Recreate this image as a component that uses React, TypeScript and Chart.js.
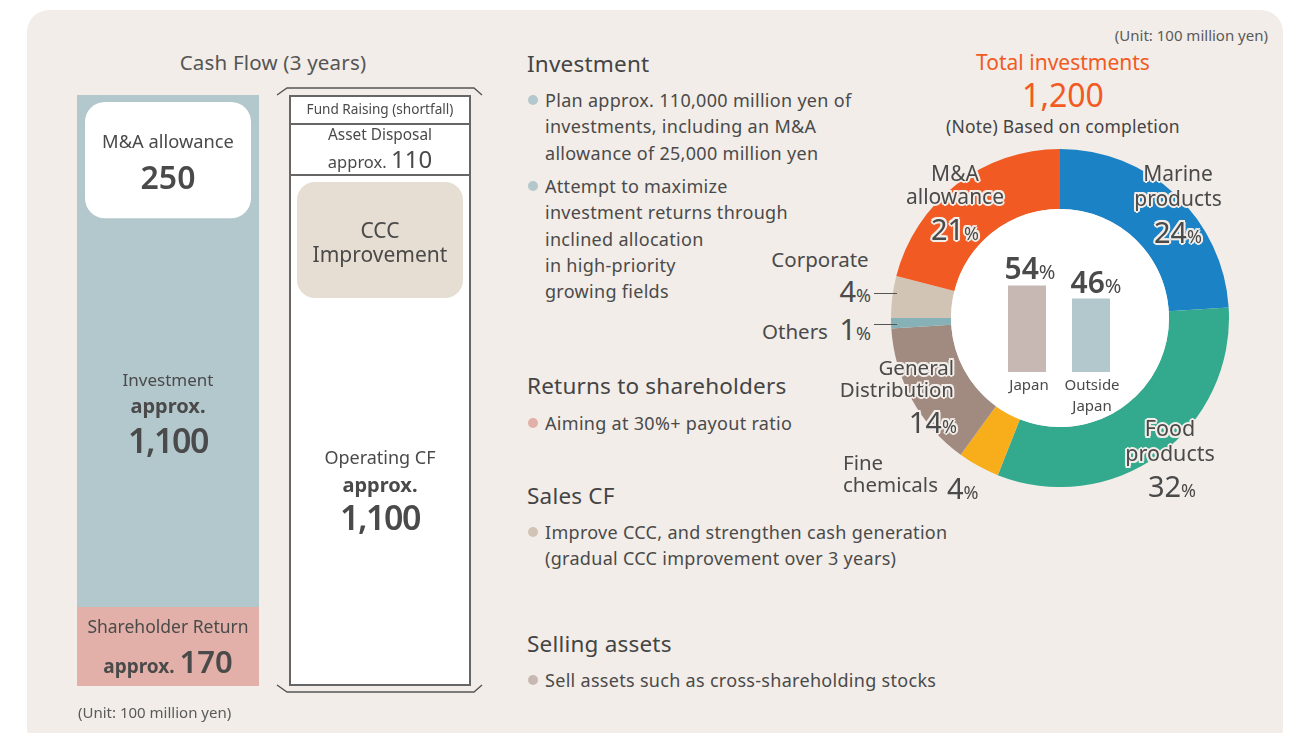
import React, { useEffect, useRef } from "react";
import { Chart, registerables } from "chart.js";

Chart.register(...registerables);

// ---------- DATA ----------
const cfCategories = ["Uses", "Sources"];
const shareholderReturn = [170, null];
const investment = [1100, null];
const operatingCF = [null, 1100];
const assetDisposal = [null, 110];
const fundRaising = [null, 60];
const maAllowance = 250;

const segLabels = [
  "Marine products",
  "Food products",
  "Fine chemicals",
  "General Distribution",
  "Others",
  "Corporate",
  "M&A allowance",
];
const segValues = [24, 32, 4, 14, 1, 4, 21];
const segColors = ["#1b82c5", "#33a98d", "#f8ae1b", "#a18a80", "#86b1b6", "#d1c4b5", "#f15a23"];

const regionLabels = ["Japan", "Outside Japan"];
const regionValues = [54, 46];
const regionColors = ["#c8b8b3", "#b3c8cd"];

// ---------- STYLE ----------
const FONT = "'Noto Sans', 'Open Sans', sans-serif";
const TXT = "#4a4a4a";
const PANEL = "#f2ede8";
const ORANGE = "#f15a23";
const halo = [
  `2px 0 0 ${PANEL}`,
  `-2px 0 0 ${PANEL}`,
  `0 2px 0 ${PANEL}`,
  `0 -2px 0 ${PANEL}`,
  `1.5px 1.5px 0 ${PANEL}`,
  `-1.5px 1.5px 0 ${PANEL}`,
  `1.5px -1.5px 0 ${PANEL}`,
  `-1.5px -1.5px 0 ${PANEL}`,
  `0 0 3px ${PANEL}`,
].join(", ");

function T({ x, y, a = "center", s = 16, w = 400, c = TXT, children, style = {} }: any) {
  const tx = a === "center" ? "-50%" : a === "right" ? "-100%" : "0";
  return (
    <div
      style={{
        position: "absolute",
        left: x,
        top: y,
        transform: `translate(${tx},-50%)`,
        fontSize: s,
        fontWeight: w,
        color: c,
        whiteSpace: "nowrap",
        lineHeight: 1,
        fontFamily: FONT,
        ...style,
      }}
    >
      {children}
    </div>
  );
}

function Dot({ x, y, c }: any) {
  return (
    <div
      style={{
        position: "absolute",
        left: x - 5,
        top: y - 5,
        width: 10,
        height: 10,
        borderRadius: 5,
        background: c,
      }}
    />
  );
}

function roundRect(ctx: CanvasRenderingContext2D, x: number, y: number, w: number, h: number, r: number) {
  ctx.beginPath();
  ctx.moveTo(x + r, y);
  ctx.lineTo(x + w - r, y);
  ctx.arcTo(x + w, y, x + w, y + r, r);
  ctx.lineTo(x + w, y + h - r);
  ctx.arcTo(x + w, y + h, x + w - r, y + h, r);
  ctx.lineTo(x + r, y + h);
  ctx.arcTo(x, y + h, x, y + h - r, r);
  ctx.lineTo(x, y + r);
  ctx.arcTo(x, y, x + r, y, r);
  ctx.closePath();
}

function CashFlowChart() {
  const ref = useRef<HTMLCanvasElement>(null);
  useEffect(() => {
    const total = (shareholderReturn[0] as number) + (investment[0] as number);
    const border = "#666666";
    const maPlugin = {
      id: "maBox",
      afterDatasetsDraw(chart: any) {
        const ctx = chart.ctx;
        const y = chart.scales.y;
        const inv = chart.getDatasetMeta(1).data[0];
        if (inv) {
          const left = inv.x - inv.width / 2 + 8;
          const w = inv.width - 16;
          const top = inv.y + 7;
          const h = y.getPixelForValue(0) - y.getPixelForValue(maAllowance);
          ctx.save();
          ctx.fillStyle = "#ffffff";
          roundRect(ctx, left, top, w, h, 20);
          ctx.fill();
          ctx.restore();
        }
        const fr = chart.getDatasetMeta(4).data[1];
        const op = chart.getDatasetMeta(2).data[1];
        if (fr && op) {
          const l = fr.x - fr.width / 2 - 12;
          const r = fr.x + fr.width / 2 + 11;
          const t = fr.y - 7;
          const b = op.base + 6;
          ctx.save();
          ctx.strokeStyle = "#555";
          ctx.lineWidth = 1.4;
          ctx.beginPath();
          ctx.moveTo(l, t + 7);
          ctx.lineTo(l + 10, t);
          ctx.lineTo(r - 8, t);
          ctx.lineTo(r, t + 7);
          ctx.stroke();
          ctx.beginPath();
          ctx.moveTo(l, b - 7);
          ctx.lineTo(l + 10, b);
          ctx.lineTo(r - 8, b);
          ctx.lineTo(r, b - 7);
          ctx.stroke();
          ctx.restore();
        }
      },
    };
    const chart = new Chart(ref.current as HTMLCanvasElement, {
      type: "bar",
      data: {
        labels: cfCategories,
        datasets: [
          { label: "Shareholder Return", data: shareholderReturn, backgroundColor: "#e2b0a8", borderWidth: 0 },
          { label: "Investment", data: investment, backgroundColor: "#b3c8cd", borderWidth: 0 },
          {
            label: "Operating CF",
            data: operatingCF,
            backgroundColor: "#ffffff",
            borderColor: border,
            borderWidth: { top: 2, left: 2, right: 2, bottom: 2 },
            borderSkipped: false,
          },
          {
            label: "Asset Disposal",
            data: assetDisposal,
            backgroundColor: "#ffffff",
            borderColor: border,
            borderWidth: { top: 2, left: 2, right: 2, bottom: 0 },
            borderSkipped: false,
          },
          {
            label: "Fund Raising (shortfall)",
            data: fundRaising,
            backgroundColor: "#ffffff",
            borderColor: border,
            borderWidth: { top: 2, left: 2, right: 2, bottom: 0 },
            borderSkipped: false,
          },
        ] as any,
      },
      options: {
        animation: false,
        responsive: false,
        layout: { padding: { top: 10, bottom: 10, left: 0, right: 0 } },
        datasets: { bar: { barPercentage: 182 / 212, categoryPercentage: 1 } } as any,
        scales: {
          x: { stacked: true, display: false },
          y: { stacked: true, display: false, min: 0, max: total },
        },
        plugins: { legend: { display: false }, tooltip: { enabled: false } },
      },
      plugins: [maPlugin],
    });
    return () => chart.destroy();
  }, []);
  return (
    <canvas
      ref={ref}
      width={424}
      height={611}
      style={{ position: "absolute", left: 62, top: 85, width: 424, height: 611 }}
    />
  );
}

function DoughnutChart() {
  const ref = useRef<HTMLCanvasElement>(null);
  useEffect(() => {
    const centerPlugin = {
      id: "whiteCenter",
      afterDatasetsDraw(chart: any) {
        const arc = chart.getDatasetMeta(0).data[0];
        if (!arc) return;
        const ctx = chart.ctx;
        ctx.save();
        ctx.fillStyle = "#ffffff";
        ctx.beginPath();
        ctx.arc(arc.x, arc.y, arc.innerRadius, 0, Math.PI * 2);
        ctx.fill();
        ctx.restore();
      },
    };
    const chart = new Chart(ref.current as HTMLCanvasElement, {
      type: "doughnut",
      data: {
        labels: segLabels,
        datasets: [{ data: segValues, backgroundColor: segColors, borderWidth: 0 }],
      },
      options: {
        animation: false,
        responsive: false,
        cutout: "64.5%",
        layout: { padding: 0 },
        plugins: { legend: { display: false }, tooltip: { enabled: false } },
      },
      plugins: [centerPlugin],
    });
    return () => chart.destroy();
  }, []);
  return (
    <canvas
      ref={ref}
      width={338}
      height={338}
      style={{ position: "absolute", left: 891, top: 149, width: 338, height: 338 }}
    />
  );
}

function RegionChart() {
  const ref = useRef<HTMLCanvasElement>(null);
  useEffect(() => {
    const chart = new Chart(ref.current as HTMLCanvasElement, {
      type: "bar",
      data: {
        labels: regionLabels,
        datasets: [{ data: regionValues, backgroundColor: regionColors, borderWidth: 0 }],
      },
      options: {
        animation: false,
        responsive: false,
        layout: { padding: 0 },
        datasets: { bar: { barPercentage: 38 / 64, categoryPercentage: 1 } } as any,
        scales: {
          x: { display: false },
          y: { display: false, min: 0, max: 70 },
        },
        plugins: { legend: { display: false }, tooltip: { enabled: false } },
      },
    });
    return () => chart.destroy();
  }, []);
  return (
    <canvas
      ref={ref}
      width={128}
      height={112}
      style={{ position: "absolute", left: 995, top: 260, width: 128, height: 112 }}
    />
  );
}

function Pct({ n, ns = 29, ps = 18, w = 400 }: any) {
  return (
    <span>
      <span style={{ fontSize: ns, fontWeight: w }}>{n}</span>
      <span style={{ fontSize: ps }}>%</span>
    </span>
  );
}

export default function App() {
  const lh = 26.3;
  const bs = 18; // body text size
  const bl = 0.3; // body letter spacing
  const body = { letterSpacing: bl };
  const head = { letterSpacing: 0.2 };
  return (
    <div
      style={{
        position: "absolute",
        left: 0,
        top: 0,
        width: 1290,
        height: 733,
        overflow: "hidden",
        background: "#ffffff",
        fontFamily: FONT,
      }}
    >
      <div
        style={{
          position: "absolute",
          left: 27,
          top: 10,
          width: 1256,
          height: 740,
          borderRadius: 22,
          background: PANEL,
        }}
      />

      {/* ---- Cash flow ---- */}
      <T x={273} y={62} s={20.5} c="#555" style={{ letterSpacing: 0.2 }}>Cash Flow (3 years)</T>
      <CashFlowChart />
      <div
        style={{
          position: "absolute",
          left: 297,
          top: 182,
          width: 166,
          height: 116,
          borderRadius: 18,
          background: "#e6ddd3",
        }}
      />
      <T x={168} y={141} s={18.3}>M&amp;A allowance</T>
      <T x={168} y={177} s={32} w={600}>250</T>
      <T x={168} y={379} s={17}>Investment</T>
      <T x={168} y={406} s={20} w={700}>approx.</T>
      <T x={168} y={440} s={34} w={600} style={{ letterSpacing: -1.5 }}>1,100</T>
      <T x={168} y={627} s={17.5}>Shareholder Return</T>
      <T x={168} y={661} s={19} w={700}>
        approx. <span style={{ fontSize: 31, fontWeight: 600 }}>170</span>
      </T>
      <T x={78} y={712} a="left" s={15} c="#5a5a5a">(Unit: 100 million yen)</T>

      <T x={380} y={109} s={13.6}>Fund Raising (shortfall)</T>
      <T x={380} y={135} s={15.4}>Asset Disposal</T>
      <T x={380} y={159} s={16.5}>
        approx. <span style={{ fontSize: 24 }}>110</span>
      </T>
      <T x={380} y={230} s={21}>CCC</T>
      <T x={380} y={254} s={21}>Improvement</T>
      <T x={380} y={457} s={18}>Operating CF</T>
      <T x={380} y={485} s={20} w={700}>approx.</T>
      <T x={380} y={517} s={34} w={600} style={{ letterSpacing: -1.5 }}>1,100</T>

      {/* ---- middle text ---- */}
      <T x={527} y={64} a="left" s={22.5} c="#444" style={head}>Investment</T>
      <Dot x={533} y={100} c="#b3c8cd" />
      <T x={545} y={100} a="left" s={bs} style={body}>Plan approx. 110,000 million yen of</T>
      <T x={545} y={100 + lh} a="left" s={bs} style={body}>investments, including an M&amp;A</T>
      <T x={545} y={100 + 2 * lh} a="left" s={bs} style={body}>allowance of 25,000 million yen</T>
      <Dot x={533} y={186} c="#b3c8cd" />
      <T x={545} y={186} a="left" s={bs} style={body}>Attempt to maximize</T>
      <T x={545} y={186 + lh} a="left" s={bs} style={body}>investment returns through</T>
      <T x={545} y={186 + 2 * lh} a="left" s={bs} style={body}>inclined allocation</T>
      <T x={545} y={186 + 3 * lh} a="left" s={bs} style={body}>in high-priority</T>
      <T x={545} y={186 + 4 * lh} a="left" s={bs} style={body}>growing fields</T>

      <T x={527} y={386} a="left" s={22.5} c="#444" style={head}>Returns to shareholders</T>
      <Dot x={533} y={423} c="#e2b0a8" />
      <T x={545} y={423} a="left" s={bs} style={body}>Aiming at 30%+ payout ratio</T>

      <T x={527} y={496} a="left" s={22.5} c="#444" style={head}>Sales CF</T>
      <Dot x={533} y={532} c="#d1c4b5" />
      <T x={545} y={532} a="left" s={bs} style={body}>Improve CCC, and strengthen cash generation</T>
      <T x={545} y={558} a="left" s={bs} style={body}>(gradual CCC improvement over 3 years)</T>

      <T x={527} y={644} a="left" s={22.5} c="#444" style={head}>Selling assets</T>
      <Dot x={533} y={680} c="#c8b8b3" />
      <T x={545} y={680} a="left" s={bs} style={body}>Sell assets such as cross-shareholding stocks</T>

      {/* ---- right: doughnut ---- */}
      <T x={1268} y={35} a="right" s={15} c="#5a5a5a">(Unit: 100 million yen)</T>
      <T x={1063} y={62} s={21} c={ORANGE}>Total investments</T>
      <T x={1063} y={95} s={32} c={ORANGE}>1,200</T>
      <T x={1063} y={127} s={17.5} c="#444" style={{ letterSpacing: 0.2 }}>(Note) Based on completion</T>

      <DoughnutChart />
      <RegionChart />

      <T x={1030} y={268}>
        <Pct n="54" ns={30} ps={20} w={600} />
      </T>
      <T x={1096} y={282}>
        <Pct n="46" ns={30} ps={20} w={600} />
      </T>
      <T x={1029} y={384} s={15}>Japan</T>
      <T x={1092} y={384} s={15}>Outside</T>
      <T x={1092} y={405} s={15}>Japan</T>

      {/* segment labels */}
      <T x={955} y={173} s={21} style={{ textShadow: halo }}>M&amp;A</T>
      <T x={955} y={196} s={21} style={{ textShadow: halo }}>allowance</T>
      <T x={955} y={228} style={{ textShadow: halo }}><Pct n="21" /></T>

      <T x={1178} y={173} s={21} style={{ textShadow: halo }}>Marine</T>
      <T x={1178} y={198} s={21} style={{ textShadow: halo }}>products</T>
      <T x={1178} y={231} style={{ textShadow: halo }}><Pct n="24" /></T>

      <T x={820} y={259} s={20.5}>Corporate</T>
      <T x={871} y={290} a="right"><Pct n="4" /></T>
      <div style={{ position: "absolute", left: 874, top: 293, width: 23, height: 1.3, background: "#555" }} />

      <T x={762} y={331} a="left" s={20.5}>Others</T>
      <T x={871} y={328} a="right"><Pct n="1" /></T>
      <div style={{ position: "absolute", left: 874, top: 324, width: 23, height: 1.3, background: "#555" }} />

      <T x={954} y={367} a="right" s={20.5} style={{ textShadow: halo }}>General</T>
      <T x={954} y={389} a="right" s={20.5} style={{ textShadow: halo }}>Distribution</T>
      <T x={957} y={421} a="right" style={{ textShadow: halo }}><Pct n="14" /></T>

      <T x={843} y={462} a="left" s={20.5}>Fine</T>
      <T x={843} y={484} a="left" s={20.5}>chemicals</T>
      <T x={947} y={487} a="left"><Pct n="4" /></T>

      <T x={1170} y={428} s={21.5} style={{ textShadow: halo }}>Food</T>
      <T x={1170} y={453} s={21.5} style={{ textShadow: halo }}>products</T>
      <T x={1172} y={485} style={{ textShadow: halo }}><Pct n="32" /></T>
    </div>
  );
}
